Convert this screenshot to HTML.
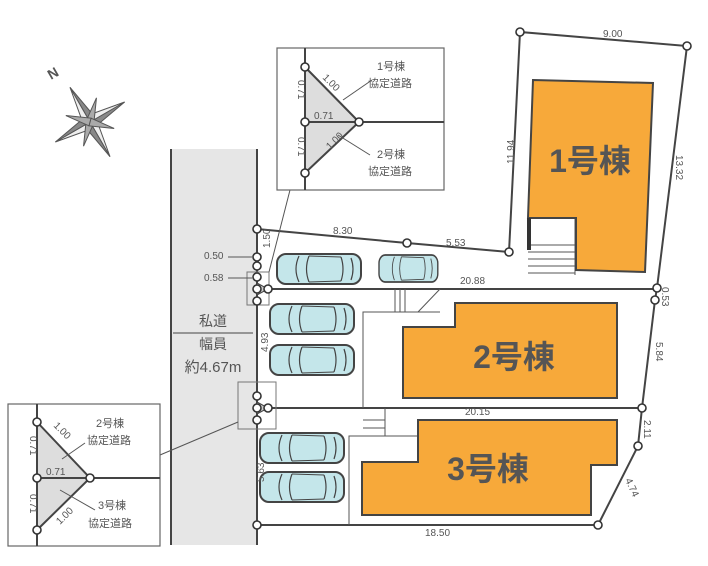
<!DOCTYPE html>
<html><head><meta charset="utf-8"><style>
html,body{margin:0;padding:0;background:#fff;}
svg{display:block;}
text{font-family:"Liberation Sans","Noto Sans CJK JP",sans-serif;fill:#555;}
</style></head><body>
<svg width="708" height="566" viewBox="0 0 708 566" xmlns="http://www.w3.org/2000/svg">
<defs>
<g id="car">
<rect x="0" y="0" width="84" height="30" rx="9" fill="#c4e6ea" stroke="#444" stroke-width="2"/>
<path d="M22 2 Q16 15 22 28 M32 2 Q27 15 32 28 M64 3 Q68 15 64 27 M74 4 Q78 15 74 26" fill="none" stroke="#444" stroke-width="1.2"/>
<line x1="32" y1="2" x2="64" y2="3" stroke="#444"/>
<line x1="32" y1="28" x2="64" y2="27" stroke="#444"/>
</g>
<g id="pin"><circle r="4" fill="#fff" stroke="#333" stroke-width="1.6"/></g>
</defs>
<rect x="171" y="149" width="86" height="396" fill="#e6e6e6"/>
<line x1="171" y1="149" x2="171" y2="545" stroke="#444" stroke-width="2"/>
<line x1="257" y1="149" x2="257" y2="545" stroke="#444" stroke-width="2"/>
<line x1="173" y1="333" x2="253" y2="333" stroke="#444" stroke-width="1"/>
<text x="213" y="326" font-size="14" text-anchor="middle" fill="#444">私道</text>
<text x="213" y="349" font-size="14" text-anchor="middle" fill="#444">幅員</text>
<text x="213" y="372" font-size="15" text-anchor="middle" fill="#444">約4.67m</text>
<g stroke="#444" stroke-width="2" fill="none">
<polyline points="257,229 407,243 509,252 520,32 687,46 657,288 655,300 642,408 638,446 598,525 257,525"/>
<line x1="257" y1="289" x2="657" y2="289"/>
<line x1="257" y1="408" x2="642" y2="408"/>
</g>
<g stroke="#555" stroke-width="1" fill="none">
<polyline points="363,408 363,312 440,312"/>
<polyline points="349,525 349,436 418,436"/>
<line x1="395" y1="289" x2="395" y2="312"/><line x1="400" y1="289" x2="400" y2="312"/><line x1="405" y1="289" x2="405" y2="312"/>
<line x1="363" y1="420" x2="385" y2="420"/><line x1="363" y1="428" x2="385" y2="428"/><line x1="385" y1="408" x2="385" y2="436"/>
<line x1="418" y1="312" x2="440" y2="289"/>
<line x1="528" y1="245" x2="575" y2="245"/><line x1="528" y1="252" x2="575" y2="252"/><line x1="528" y1="259" x2="575" y2="259"/><line x1="528" y1="266" x2="575" y2="266"/><line x1="528" y1="273" x2="575" y2="273"/>
<line x1="575" y1="218" x2="575" y2="275"/>
</g>
<g fill="#f7a93a" stroke="#444" stroke-width="2">
<polygon points="533,80 653,83 645,272 576,270 576,218 528,218"/>
<polygon points="455,303 617,303 617,398 403,398 403,327 455,327"/>
<polygon points="418,420 617,420 617,465 591,465 591,515 362,515 362,462 418,462"/>
</g>
<rect x="527" y="218" width="4" height="32" fill="#333"/>
<text x="590" y="172" font-size="32" font-weight="bold" text-anchor="middle" fill="#444">1号棟</text>
<text x="514" y="368" font-size="32" font-weight="bold" text-anchor="middle" fill="#444">2号棟</text>
<text x="488" y="480" font-size="32" font-weight="bold" text-anchor="middle" fill="#444">3号棟</text>
<use href="#car" transform="translate(277,254)"/>
<use href="#car" transform="translate(379,255) scale(0.7,0.9)"/>
<use href="#car" transform="translate(270,304)"/>
<use href="#car" transform="translate(270,345)"/>
<use href="#car" transform="translate(260,433)"/>
<use href="#car" transform="translate(260,472)"/>
<rect x="247" y="272" width="22" height="33" fill="none" stroke="#777" stroke-width="1"/>
<rect x="238" y="382" width="38" height="47" fill="none" stroke="#777" stroke-width="1"/>
<line x1="269" y1="272" x2="290" y2="190" stroke="#555"/>
<line x1="238" y1="422" x2="160" y2="455" stroke="#555"/>
<polygon points="257,283 268,289 257,295" fill="#ccc" stroke="#444"/>
<polygon points="257,402 268,408 257,414" fill="#ccc" stroke="#444"/>
<g>
<use href="#pin" x="257" y="229"/><use href="#pin" x="407" y="243"/><use href="#pin" x="509" y="252"/>
<use href="#pin" x="520" y="32"/><use href="#pin" x="687" y="46"/><use href="#pin" x="657" y="288"/>
<use href="#pin" x="655" y="300"/><use href="#pin" x="642" y="408"/><use href="#pin" x="638" y="446"/>
<use href="#pin" x="598" y="525"/><use href="#pin" x="257" y="525"/>
<use href="#pin" x="257" y="257"/><use href="#pin" x="257" y="266"/><use href="#pin" x="257" y="277"/>
<use href="#pin" x="257" y="289"/><use href="#pin" x="268" y="289"/><use href="#pin" x="257" y="301"/>
<use href="#pin" x="257" y="396"/><use href="#pin" x="257" y="408"/><use href="#pin" x="268" y="408"/><use href="#pin" x="257" y="420"/>
</g>
<g font-size="10">
<text x="603" y="37">9.00</text>
<text x="333" y="234">8.30</text>
<text x="446" y="246">5.53</text>
<text x="460" y="284">20.88</text>
<text x="465" y="415">20.15</text>
<text x="425" y="536">18.50</text>
<text x="204" y="259">0.50</text>
<text x="204" y="281">0.58</text>
<text transform="translate(514,164) rotate(-90)">11.94</text>
<text transform="translate(676,155) rotate(90)">13.32</text>
<text transform="translate(662,287) rotate(90)">0.53</text>
<text transform="translate(656,342) rotate(90)">5.84</text>
<text transform="translate(644,420) rotate(90)">2.11</text>
<text transform="translate(625,480) rotate(65)">4.74</text>
<text transform="translate(270,248) rotate(-90)">1.50</text>
<text transform="translate(268,352) rotate(-90)">4.93</text>
<text transform="translate(264,482) rotate(-90)">5.63</text>
</g>
<line x1="228" y1="257" x2="252" y2="257" stroke="#555"/>
<line x1="228" y1="278" x2="252" y2="278" stroke="#555"/>
<rect x="277" y="48" width="167" height="142" fill="#fff" stroke="#666" stroke-width="1.2"/>
<polygon points="305,67 359,122 305,173" fill="#ddd"/>
<g stroke="#444" stroke-width="2" fill="none">
<line x1="305" y1="48" x2="305" y2="190"/>
<line x1="305" y1="122" x2="444" y2="122"/>
<polyline points="305,67 359,122 305,173"/>
</g>
<line x1="343" y1="100" x2="372" y2="80" stroke="#555"/>
<line x1="338" y1="135" x2="370" y2="155" stroke="#555"/>
<use href="#pin" x="305" y="67"/><use href="#pin" x="305" y="122"/><use href="#pin" x="359" y="122"/><use href="#pin" x="305" y="173"/>
<g font-size="11" fill="#444"><text x="377" y="70">1号棟</text><text x="368" y="87">協定道路</text>
<text x="377" y="158">2号棟</text><text x="368" y="175">協定道路</text></g>
<g font-size="10"><text x="314" y="119">0.71</text>
<text transform="translate(298,80) rotate(90)">0.71</text><text transform="translate(298,137) rotate(90)">0.71</text>
<text transform="translate(322,78) rotate(45)">1.00</text><text transform="translate(330,150) rotate(-45)">1.00</text></g>
<rect x="8" y="404" width="152" height="142" fill="#fff" stroke="#666" stroke-width="1.2"/>
<polygon points="37,422 90,478 37,530" fill="#ddd"/>
<g stroke="#444" stroke-width="2" fill="none">
<line x1="37" y1="404" x2="37" y2="546"/>
<line x1="37" y1="478" x2="160" y2="478"/>
<polyline points="37,422 90,478 37,530"/>
</g>
<line x1="62" y1="459" x2="85" y2="443" stroke="#555"/>
<line x1="60" y1="490" x2="95" y2="510" stroke="#555"/>
<use href="#pin" x="37" y="422"/><use href="#pin" x="37" y="478"/><use href="#pin" x="90" y="478"/><use href="#pin" x="37" y="530"/>
<g font-size="11" fill="#444"><text x="96" y="427">2号棟</text><text x="87" y="444">協定道路</text>
<text x="98" y="509">3号棟</text><text x="88" y="527">協定道路</text></g>
<g font-size="10"><text x="46" y="475">0.71</text>
<text transform="translate(30,436) rotate(90)">0.71</text><text transform="translate(30,494) rotate(90)">0.71</text>
<text transform="translate(53,426) rotate(45)">1.00</text><text transform="translate(60,525) rotate(-45)">1.00</text></g>
<g transform="translate(90,122) rotate(-30)" stroke="#555" stroke-width="1">
<polygon points="0,-40 6,-6 0,0" fill="#888"/><polygon points="0,-40 -6,-6 0,0" fill="#eee"/>
<polygon points="0,40 6,6 0,0" fill="#eee"/><polygon points="0,40 -6,6 0,0" fill="#888"/>
<polygon points="40,0 6,6 0,0" fill="#888"/><polygon points="40,0 6,-6 0,0" fill="#eee"/>
<polygon points="-40,0 -6,6 0,0" fill="#eee"/><polygon points="-40,0 -6,-6 0,0" fill="#888"/>
<g transform="rotate(45)"><polygon points="0,-25 4,0 -4,0" fill="#aaa"/><polygon points="0,25 4,0 -4,0" fill="#aaa"/><polygon points="25,0 0,4 0,-4" fill="#aaa"/><polygon points="-25,0 0,4 0,-4" fill="#aaa"/></g>
</g>
<text transform="translate(51,80) rotate(-30)" font-size="14" font-weight="bold" fill="#555">N</text>
</svg>
</body></html>
